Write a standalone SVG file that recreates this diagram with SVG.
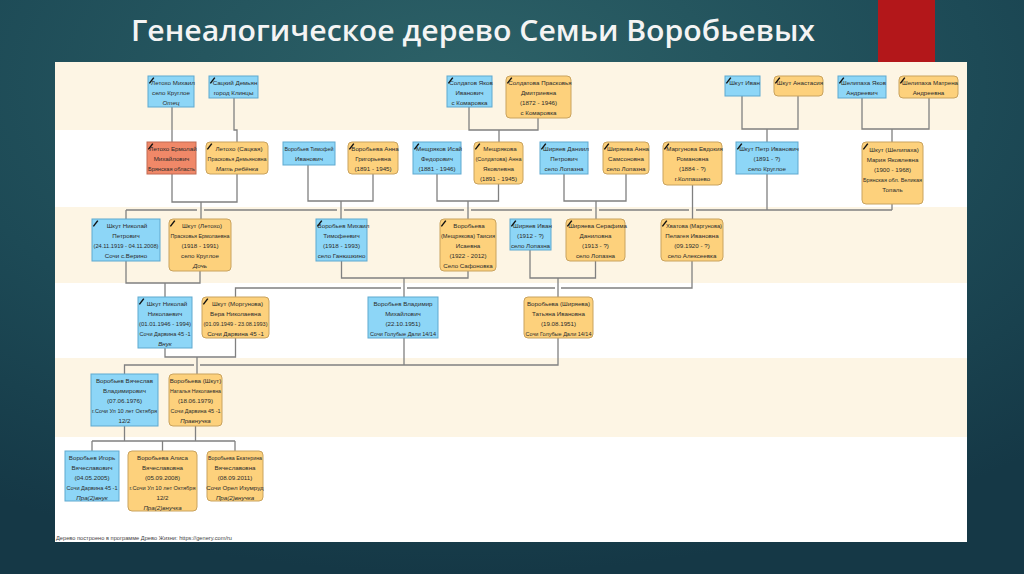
<svg xmlns="http://www.w3.org/2000/svg" width="1024" height="574" viewBox="0 0 1024 574">
<defs>
<radialGradient id="bg" cx="0.45" cy="0.15" r="0.85">
<stop offset="0" stop-color="#2d6268"/>
<stop offset="0.6" stop-color="#1d4a56"/>
<stop offset="1" stop-color="#153846"/>
</radialGradient>
<path id="pen" d="M0.8 7 L5.2 1.2 L6.4 2 L1.9 7.7 Z" fill="#111"/>
<style>
.b{fill:#8dd6f7;stroke:#5fa9cf;stroke-width:1}
.o{fill:#fdd17c;stroke:#c9a35e;stroke-width:1}
.r{fill:#f08868;stroke:#c26a52;stroke-width:1}
.t{font-family:"Liberation Sans",Arial,sans-serif;font-size:6.2px;fill:#2b2b2b;text-anchor:middle}
.i{font-style:italic}
.c{fill:none;stroke:#808080;stroke-width:1.3}
</style>
</defs>
<rect width="1024" height="574" fill="url(#bg)"/>
<rect x="878" y="0" width="57" height="63" fill="#b3171a"/>
<text x="131" y="41" font-family="'Open Sans','DejaVu Sans',sans-serif" font-size="28" font-weight="600" fill="#f4f4f4" textLength="684" lengthAdjust="spacingAndGlyphs">Генеалогическое дерево Семьи Воробьевых</text>
<g id="panel">
<rect x="55" y="62" width="912" height="480" fill="#ffffff"/>
<rect x="55" y="62" width="912" height="68" fill="#fdf5e4"/>
<rect x="55" y="207" width="912" height="76" fill="#fdf5e4"/>
<rect x="55" y="358" width="912" height="79" fill="#fdf5e4"/>
<text x="56" y="540" font-family="'Liberation Sans',Arial,sans-serif" font-size="6" fill="#444" textLength="176" lengthAdjust="spacingAndGlyphs">Дерево построено в программе Древо Жизни: https://genery.com/ru</text>
</g>
<g id="connectors" class="c">
<path d="M172 107V142M234 98V130H237V142M172 174V202H237V174M201 202V219"/>
<path d="M308 165V201H373V174M341 201V219"/>
<path d="M469 107V130H538V118M499 130V142"/>
<path d="M437 174V201H498.5V184M468 201V219"/>
<path d="M564 174V201H626V174M596 201V219"/>
<path d="M692.5 185V219"/>
<path d="M742 96V129H798V96M767 129V142"/>
<path d="M862 98V129H929V98M892 129V142"/>
<path d="M767 174V210M892 204V210M126 210V219M126 210H197M204 210H337M344 210H464M471 210H592M599 210H689M696 210H892"/>
<path d="M126 261V283H200V271M165 283V297"/>
<path d="M341.5 261V278H468V271M404 278V297"/>
<path d="M530 250V278H595.5V261M558 278V297"/>
<path d="M692 261V288H561M555 288H407M401 288H235.5V297"/>
<path d="M165 348V357H235.5V338M197 357V374"/>
<path d="M404 338V365M558 338V365H200M194 365H124.5V374"/>
<path d="M124.5 426V441M195.5 426V441M92 441H235M92 441V451M162.5 441V451M235 441V451"/>
</g>
<g id="n_letokho_mikhail"><rect class="b" x="148" y="76" width="46" height="31"/><use href="#pen" x="148" y="76"/><text class="t"><tspan x="173" y="84.7">Летохо Михаил</tspan><tspan x="171" y="94.7">село Круглое</tspan><tspan x="171" y="104.7" class="i">Отец</tspan></text></g>
<g id="n_satskiy"><rect class="b" x="209" y="76" width="49" height="22"/><use href="#pen" x="209" y="76"/><text class="t"><tspan x="235" y="84.7">Сацкий Демьян</tspan><tspan x="233.5" y="94.7">город Клинцы</tspan></text></g>
<g id="n_soldatov"><rect class="b" x="447" y="76" width="45" height="31"/><use href="#pen" x="447" y="76"/><text class="t"><tspan x="471" y="84.7">Солдатов Яков</tspan><tspan x="469.5" y="94.7">Иванович</tspan><tspan x="469.5" y="104.7">с Комаровка</tspan></text></g>
<g id="n_soldatova"><rect class="o" x="506" y="76" width="65" height="42" rx="4"/><use href="#pen" x="506" y="76"/><text class="t"><tspan x="540" y="84.7">Солдатова Прасковья</tspan><tspan x="538.5" y="94.7">Дмитриевна</tspan><tspan x="538.5" y="104.7">(1872 - 1946)</tspan><tspan x="538.5" y="114.7">с Комаровка</tspan></text></g>
<g id="n_shkut_ivan"><rect class="b" x="725" y="76" width="35" height="20"/><use href="#pen" x="725" y="76"/><text class="t"><tspan x="744.5" y="84.7">Шкут Иван</tspan></text></g>
<g id="n_shkut_anastasia"><rect class="o" x="774" y="76" width="49" height="20" rx="4"/><use href="#pen" x="774" y="76"/><text class="t"><tspan x="800" y="84.7">Шкут Анастасия</tspan></text></g>
<g id="n_shelipakha_yakov"><rect class="b" x="838" y="76" width="48" height="22"/><use href="#pen" x="838" y="76"/><text class="t"><tspan x="863.5" y="84.7">Шелипаха Яков</tspan><tspan x="862" y="94.7">Андреевич</tspan></text></g>
<g id="n_shelipakha_matrena"><rect class="o" x="899" y="76" width="59" height="22" rx="4"/><use href="#pen" x="899" y="76"/><text class="t"><tspan x="930" y="84.7">Шелипаха Матрена</tspan><tspan x="928.5" y="94.7">Андреевна</tspan></text></g>
<g id="n_letokho_ermolai"><rect class="r" x="147" y="142" width="49" height="32"/><use href="#pen" x="147" y="142"/><text class="t"><tspan x="173" y="150.7">Летохо Ермолай</tspan><tspan x="171.5" y="160.7">Михайлович</tspan><tspan x="171.5" y="170.7" textLength="47" lengthAdjust="spacingAndGlyphs">Брянская область</tspan></text></g>
<g id="n_letokho_satskaya"><rect class="o" x="206" y="142" width="62" height="32" rx="4"/><use href="#pen" x="206" y="142"/><text class="t"><tspan x="239" y="150.7">Летохо (Сацкая)</tspan><tspan x="237" y="160.7" textLength="59" lengthAdjust="spacingAndGlyphs">Прасковья Демьяновна</tspan><tspan x="237" y="170.7" class="i">Мать ребёнка</tspan></text></g>
<g id="n_vorobyov_timofey"><rect class="b" x="283" y="142" width="52" height="23"/><text class="t"><tspan x="309" y="150.7" textLength="49" lengthAdjust="spacingAndGlyphs">Воробьев Тимофей</tspan><tspan x="309" y="160.7">Иванович</tspan></text></g>
<g id="n_vorobyova_anna"><rect class="o" x="348" y="142" width="50" height="32" rx="4"/><use href="#pen" x="348" y="142"/><text class="t"><tspan x="375" y="150.7">Воробьева Анна</tspan><tspan x="373" y="160.7">Григорьевна</tspan><tspan x="373" y="170.7">(1891 - 1945)</tspan></text></g>
<g id="n_meshchryakov_isai"><rect class="b" x="413" y="142" width="48" height="32"/><use href="#pen" x="413" y="142"/><text class="t"><tspan x="439" y="150.7">Мещряков Исай</tspan><tspan x="437" y="160.7">Федорович</tspan><tspan x="437" y="170.7">(1881 - 1946)</tspan></text></g>
<g id="n_meshchryakova_anna"><rect class="o" x="474" y="142" width="49" height="42" rx="4"/><use href="#pen" x="474" y="142"/><text class="t"><tspan x="500" y="150.7">Мещрякова</tspan><tspan x="498.5" y="160.7" textLength="46" lengthAdjust="spacingAndGlyphs">(Солдатова) Анна</tspan><tspan x="498.5" y="170.7">Яковлевна</tspan><tspan x="498.5" y="180.7">(1891 - 1945)</tspan></text></g>
<g id="n_shiryaev_daniil"><rect class="b" x="540" y="142" width="48" height="32"/><use href="#pen" x="540" y="142"/><text class="t"><tspan x="566" y="150.7">Ширяев Даниил</tspan><tspan x="564" y="160.7">Петрович</tspan><tspan x="564" y="170.7">село Лопазна</tspan></text></g>
<g id="n_shiryaeva_anna"><rect class="o" x="603" y="142" width="46" height="32" rx="4"/><use href="#pen" x="603" y="142"/><text class="t"><tspan x="628" y="150.7">Ширяева Анна</tspan><tspan x="626" y="160.7">Самсоновна</tspan><tspan x="626" y="170.7">село Лопазна</tspan></text></g>
<g id="n_margunova"><rect class="o" x="663" y="142" width="59" height="43" rx="4"/><use href="#pen" x="663" y="142"/><text class="t"><tspan x="694.5" y="150.7">Маргунова Евдокия</tspan><tspan x="692.5" y="160.7">Романовна</tspan><tspan x="692.5" y="170.7">(1884 - ?)</tspan><tspan x="692.5" y="180.7">г.Колпашево</tspan></text></g>
<g id="n_shkut_petr"><rect class="b" x="736" y="142" width="62" height="32"/><use href="#pen" x="736" y="142"/><text class="t"><tspan x="769" y="150.7">Шкут Петр Иванович</tspan><tspan x="767" y="160.7">(1891 - ?)</tspan><tspan x="767" y="170.7">село Круглое</tspan></text></g>
<g id="n_shkut_maria"><rect class="o" x="862" y="142" width="61" height="62" rx="4"/><use href="#pen" x="862" y="142"/><text class="t"><tspan x="894" y="151.5">Шкут (Шелипаха)</tspan><tspan x="892.5" y="161.7">Мария Яковлевна</tspan><tspan x="892.5" y="171.9">(1900 - 1968)</tspan><tspan x="892.5" y="182.1" textLength="59" lengthAdjust="spacingAndGlyphs">Брянская обл. Великая</tspan><tspan x="892.5" y="192.3">Топаль</tspan></text></g>
<g id="n_shkut_nikolai_p"><rect class="b" x="92" y="219" width="68" height="42"/><use href="#pen" x="92" y="219"/><text class="t"><tspan x="127" y="227.7">Шкут Николай</tspan><tspan x="126" y="237.7">Петрович</tspan><tspan x="126" y="247.7" textLength="65" lengthAdjust="spacingAndGlyphs">(24.11.1919 - 04.11.2008)</tspan><tspan x="126" y="257.7">Сочи с.Верино</tspan></text></g>
<g id="n_shkut_praskovya"><rect class="o" x="169" y="219" width="62" height="52" rx="4"/><use href="#pen" x="169" y="219"/><text class="t"><tspan x="202" y="227.7">Шкут (Летохо)</tspan><tspan x="200" y="237.7" textLength="59" lengthAdjust="spacingAndGlyphs">Прасковья Ермолаевна</tspan><tspan x="200" y="247.7">(1918 - 1991)</tspan><tspan x="200" y="257.7">село Круглое</tspan><tspan x="200" y="267.7" class="i">Дочь</tspan></text></g>
<g id="n_vorobyov_mikhail"><rect class="b" x="316" y="219" width="51" height="42"/><use href="#pen" x="316" y="219"/><text class="t"><tspan x="343.5" y="227.7">Воробьев Михаил</tspan><tspan x="341.5" y="237.7">Тимофеевич</tspan><tspan x="341.5" y="247.7">(1918 - 1993)</tspan><tspan x="341.5" y="257.7">село Ганюшкино</tspan></text></g>
<g id="n_vorobyova_taisiya"><rect class="o" x="440" y="219" width="56" height="52" rx="4"/><use href="#pen" x="440" y="219"/><text class="t"><tspan x="469" y="227.7">Воробьева</tspan><tspan x="468" y="237.7" textLength="54" lengthAdjust="spacingAndGlyphs">(Мещрякова) Таисия</tspan><tspan x="468" y="247.7">Исаевна</tspan><tspan x="468" y="257.7">(1922 - 2012)</tspan><tspan x="468" y="267.7">Село Сафоновка</tspan></text></g>
<g id="n_shiryaev_ivan"><rect class="b" x="510" y="219" width="41" height="31"/><use href="#pen" x="510" y="219"/><text class="t"><tspan x="532.5" y="227.7">Ширяев Иван</tspan><tspan x="530.5" y="237.7">(1912 - ?)</tspan><tspan x="530.5" y="247.7">село Лопазна</tspan></text></g>
<g id="n_shiryaeva_serafima"><rect class="o" x="566" y="219" width="59" height="42" rx="4"/><use href="#pen" x="566" y="219"/><text class="t"><tspan x="597.5" y="227.7">Ширяева Серафима</tspan><tspan x="595.5" y="237.7">Даниловна</tspan><tspan x="595.5" y="247.7">(1913 - ?)</tspan><tspan x="595.5" y="257.7">село Лопазна</tspan></text></g>
<g id="n_khvatova"><rect class="o" x="661" y="219" width="62" height="42" rx="4"/><use href="#pen" x="661" y="219"/><text class="t"><tspan x="694" y="227.7" textLength="56" lengthAdjust="spacingAndGlyphs">Хватова (Маргунова)</tspan><tspan x="692" y="237.7">Пелагея Ивановна</tspan><tspan x="692" y="247.7">(09.1920 - ?)</tspan><tspan x="692" y="257.7">село Алексеевка</tspan></text></g>
<g id="n_shkut_nikolai_n"><rect class="b" x="138" y="297" width="54" height="51"/><use href="#pen" x="138" y="297"/><text class="t"><tspan x="167" y="305.7">Шкут Николай</tspan><tspan x="165" y="315.7">Николаевич</tspan><tspan x="165" y="325.7" textLength="52" lengthAdjust="spacingAndGlyphs">(01.01.1946 - 1994)</tspan><tspan x="165" y="335.7" textLength="51" lengthAdjust="spacingAndGlyphs">Сочи Дарвина 45 -1</tspan><tspan x="165" y="345.7" class="i">Внук</tspan></text></g>
<g id="n_shkut_vera"><rect class="o" x="202" y="297" width="67" height="41" rx="4"/><use href="#pen" x="202" y="297"/><text class="t"><tspan x="237.5" y="305.7">Шкут (Моргунова)</tspan><tspan x="235.5" y="315.7">Вера Николаевна</tspan><tspan x="235.5" y="325.7" textLength="64" lengthAdjust="spacingAndGlyphs">(01.09.1949 - 23.08.1993)</tspan><tspan x="235.5" y="335.7">Сочи Дарвина 45 -1</tspan></text></g>
<g id="n_vorobyov_vladimir"><rect class="b" x="368" y="297" width="70" height="41"/><text class="t"><tspan x="403" y="305.7">Воробьев Владимир</tspan><tspan x="403" y="315.7">Михайлович</tspan><tspan x="403" y="325.7">(22.10.1951)</tspan><tspan x="403" y="335.7" textLength="66" lengthAdjust="spacingAndGlyphs">Сочи Голубые Дали 14/14</tspan></text></g>
<g id="n_vorobyova_tatyana"><rect class="o" x="524" y="297" width="69" height="41" rx="4"/><text class="t"><tspan x="558.5" y="305.7">Воробьева (Ширяева)</tspan><tspan x="558.5" y="315.7">Татьяна Ивановна</tspan><tspan x="558.5" y="325.7">(19.08.1951)</tspan><tspan x="558.5" y="335.7" textLength="66" lengthAdjust="spacingAndGlyphs">Сочи Голубые Дали 14/14</tspan></text></g>
<g id="n_vyacheslav"><rect class="b" x="91" y="374" width="67" height="52"/><text class="t"><tspan x="124.5" y="382.7">Воробьев Вячеслав</tspan><tspan x="124.5" y="392.7">Владимирович</tspan><tspan x="124.5" y="402.7">(07.06.1976)</tspan><tspan x="124.5" y="412.7" textLength="65" lengthAdjust="spacingAndGlyphs">г.Сочи Ул 10 лет Октября</tspan><tspan x="124.5" y="422.7">12/2</tspan></text></g>
<g id="n_natalya"><rect class="o" x="169" y="374" width="53" height="52" rx="4"/><text class="t"><tspan x="195.5" y="382.7">Воробьева (Шкут)</tspan><tspan x="195.5" y="392.7" textLength="51" lengthAdjust="spacingAndGlyphs">Наталья Николаевна</tspan><tspan x="195.5" y="402.7">(18.06.1979)</tspan><tspan x="195.5" y="412.7" textLength="50" lengthAdjust="spacingAndGlyphs">Сочи Дарвина 45 -1</tspan><tspan x="195.5" y="422.7" class="i">Правнучка</tspan></text></g>
<g id="n_igor"><rect class="b" x="65" y="451" width="54" height="50"/><text class="t"><tspan x="92" y="459.7">Воробьев Игорь</tspan><tspan x="92" y="469.7">Вячеславович</tspan><tspan x="92" y="479.7">(04.05.2005)</tspan><tspan x="92" y="489.7" textLength="51" lengthAdjust="spacingAndGlyphs">Сочи Дарвина 45 -1</tspan><tspan x="92" y="499.7" class="i">Пра(2)внук</tspan></text></g>
<g id="n_alisa"><rect class="o" x="128" y="451" width="69" height="60" rx="4"/><text class="t"><tspan x="162.5" y="459.7">Воробьева Алиса</tspan><tspan x="162.5" y="469.7">Вячеславовна</tspan><tspan x="162.5" y="479.7">(05.09.2008)</tspan><tspan x="162.5" y="489.7" textLength="66" lengthAdjust="spacingAndGlyphs">г.Сочи Ул 10 лет Октября</tspan><tspan x="162.5" y="499.7">12/2</tspan><tspan x="162.5" y="509.7" class="i">Пра(2)внучка</tspan></text></g>
<g id="n_ekaterina"><rect class="o" x="207" y="451" width="56" height="50" rx="4"/><text class="t"><tspan x="235" y="459.7" textLength="54" lengthAdjust="spacingAndGlyphs">Воробьева Екатерина</tspan><tspan x="235" y="469.7">Вячеславовна</tspan><tspan x="235" y="479.7">(08.09.2011)</tspan><tspan x="235" y="489.7">Сочи Орел Изумруд</tspan><tspan x="235" y="499.7" class="i">Пра(2)внучка</tspan></text></g>
</svg>
